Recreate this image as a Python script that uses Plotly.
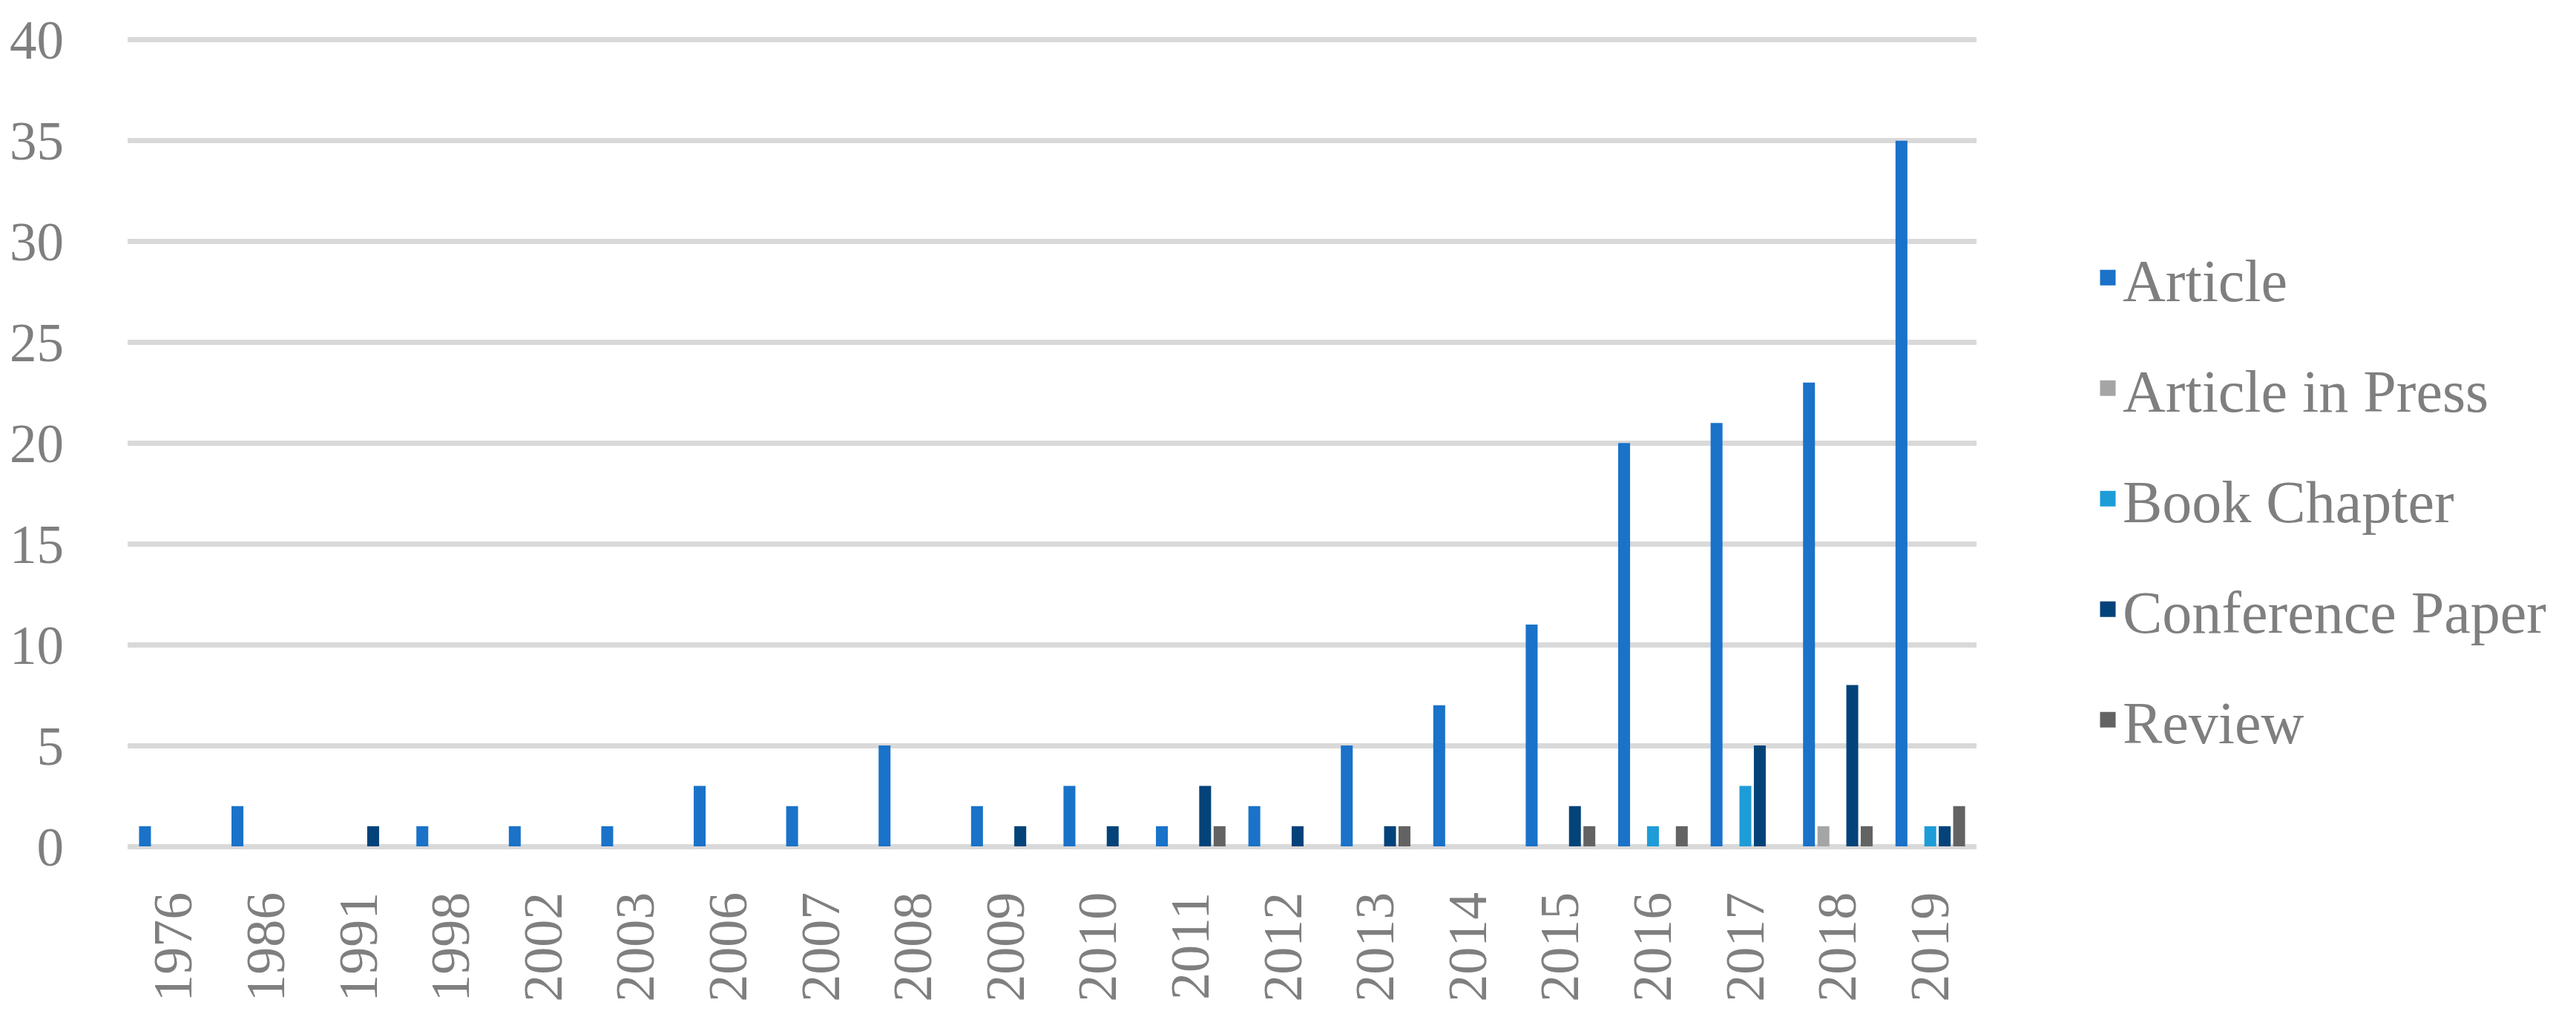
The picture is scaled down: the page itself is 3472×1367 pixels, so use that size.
import plotly.graph_objects as go

years = ["1976", "1986", "1991", "1998", "2002", "2003", "2006", "2007", "2008", "2009",
         "2010", "2011", "2012", "2013", "2014", "2015", "2016", "2017", "2018", "2019"]
article =          [1, 2, 0, 1, 1, 1, 3, 2, 5, 2, 3, 1, 2, 5, 7, 11, 20, 21, 23, 35]
article_in_press = [0, 0, 0, 0, 0, 0, 0, 0, 0, 0, 0, 0, 0, 0, 0, 0, 0, 0, 1, 0]
book_chapter =     [0, 0, 0, 0, 0, 0, 0, 0, 0, 0, 0, 0, 0, 0, 0, 0, 1, 3, 0, 1]
conference_paper = [0, 0, 1, 0, 0, 0, 0, 0, 0, 1, 1, 3, 1, 1, 0, 2, 0, 5, 8, 1]
review =           [0, 0, 0, 0, 0, 0, 0, 0, 0, 0, 0, 1, 0, 1, 0, 1, 1, 0, 1, 2]

series = [
    ("Article", article, "#1a72c9"),
    ("Article in Press", article_in_press, "#a5a5a5"),
    ("Book Chapter", book_chapter, "#1e9cd8"),
    ("Conference Paper", conference_paper, "#03437a"),
    ("Review", review, "#636363"),
]

FONT = "Liberation Serif, Palatino Linotype, serif"
GREY = "#7f7f7f"

fig = go.Figure()
for name, vals, col in series:
    fig.add_trace(go.Bar(x=years, y=vals, name=name, marker_color=col,
                         marker_line_width=0, legendgroup=name, showlegend=False))
# legend proxies (larger square symbols)
for name, vals, col in series:
    fig.add_trace(go.Scatter(x=[None], y=[None], mode="markers", name=name,
                             legendgroup=name, showlegend=True,
                             marker=dict(symbol="square", size=16, color=col,
                                         line=dict(color=col, width=5))))

fig.update_layout(
    width=3472, height=1367,
    paper_bgcolor="white", plot_bgcolor="white",
    margin=dict(l=164, r=816, t=43, b=234, autoexpand=False),
    barmode="group", bargap=0.22, bargroupgap=0.175,
    font=dict(family=FONT, color=GREY, size=76),
    showlegend=True,
    legend=dict(x=1.063, xanchor="left", y=0.43, yanchor="middle",
                font=dict(family=FONT, size=80, color=GREY),
                itemsizing="trace",
                tracegroupgap=42, itemwidth=30, bgcolor="rgba(0,0,0,0)"),
    xaxis=dict(type="category", tickangle=-90, showgrid=False, showline=False,
               ticks="", ticklabelstandoff=46, automargin=False,
               tickfont=dict(family=FONT, size=74, color=GREY)),
    yaxis=dict(range=[0, 40.1], tickvals=[0, 5, 10, 15, 20, 25, 30, 35, 40],
               showgrid=True, gridcolor="#d9d9d9", gridwidth=7,
               zeroline=True, zerolinecolor="#d9d9d9", zerolinewidth=7,
               showline=False, ticks="", ticklabelstandoff=85, automargin=False,
               tickfont=dict(family=FONT, size=73, color=GREY)),
)

fig.write_html("out.html")
